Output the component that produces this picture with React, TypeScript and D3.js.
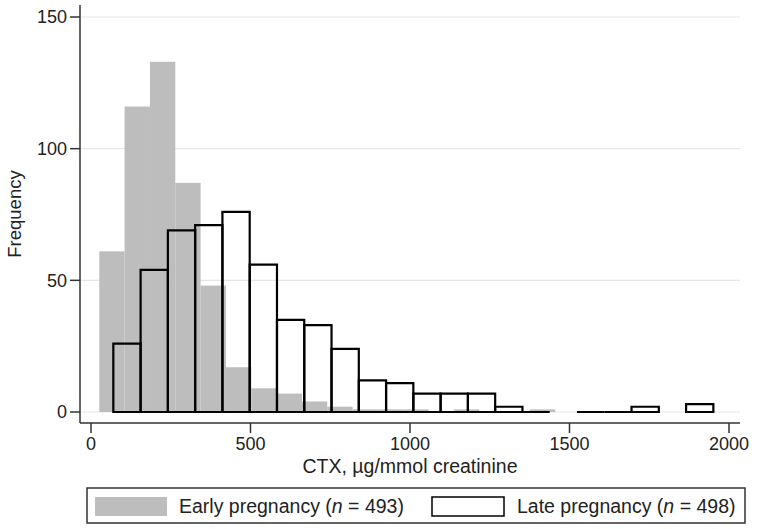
import React from 'react';
import * as d3 from 'd3';

// Histogram counts
const earlyCounts: (number | null)[] = [61, 116, 133, 87, 48, 17, 9, 7, 4, 2, 1, 1, 1, 0, 1, 0, 0, 1];
const lateCounts: (number | null)[] = [26, 54, 69, 71, 76, 56, 35, 33, 24, 12, 11, 7, 7, 7, 2, 0, null, 0, 0, 2, null, 3];
// bin settings (µg/mmol creatinine)
const earlyStart = 26;
const earlyWidth = 79.4;
const lateStart = 70;
const lateWidth = 85.5;

const xTicks = [0, 500, 1000, 1500, 2000];
const yTicks = [0, 50, 100, 150];
const xTitle = 'CTX, µg/mmol creatinine';
const yTitle = 'Frequency';

const font = '"Liberation Sans", Arial, sans-serif';

const App: React.FC = () => {
  const W = 757;
  const H = 529;
  const plot = { left: 80, right: 740, top: 5, bottom: 423 };
  const x = d3.scaleLinear().domain([0, 2000]).range([91, 729]);
  const y = d3.scaleLinear().domain([0, 150]).range([412, 17]);

  const early = earlyCounts.map((c, i) => ({ x0: earlyStart + i * earlyWidth, x1: earlyStart + (i + 1) * earlyWidth, c }));
  const late = lateCounts.map((c, i) => ({ x0: lateStart + i * lateWidth, x1: lateStart + (i + 1) * lateWidth, c }));

  // outlined bars as paths so empty bins still show as a flat line
  const barPath = (d: { x0: number; x1: number; c: number | null }) => {
    const p = d3.path();
    p.rect(x(d.x0), y(d.c as number), x(d.x1) - x(d.x0), y(0) - y(d.c as number));
    return p.toString();
  };

  return <svg width={W} height={H} style={{ position: 'absolute', left: 0, top: 0, background: '#fff' }} fontFamily={font}>
      {/* gridlines */}
      {yTicks.map(t => <line key={'g' + t} x1={plot.left} x2={plot.right} y1={y(t)} y2={y(t)} stroke="#e6e6e6" strokeWidth={1.2} />)}
      {/* early pregnancy bars */}
      {early.filter(d => d.c !== null && d.c > 0).map((d, i) => <rect key={'e' + i} x={x(d.x0)} width={x(d.x1) - x(d.x0)} y={y(d.c as number)} height={y(0) - y(d.c as number)} fill="#bdbdbd" />)}
      {/* late pregnancy bars */}
      {late.filter(d => d.c !== null).map((d, i) => <path key={'l' + i} d={barPath(d)} fill="none" stroke="#000" strokeWidth={2.2} strokeLinejoin="miter" />)}
      {/* y axis */}
      <line x1={plot.left} x2={plot.left} y1={plot.top} y2={plot.bottom} stroke="#333" strokeWidth={1.5} />
      {yTicks.map(t => <g key={'y' + t}>
          <line x1={plot.left - 10} x2={plot.left} y1={y(t)} y2={y(t)} stroke="#333" strokeWidth={1.5} />
          <text x={plot.left - 13} y={y(t)} dy="0.36em" textAnchor="end" fontSize={18} fill="#222">{t}</text>
        </g>)}
      <text transform={`translate(21,${(plot.top + plot.bottom) / 2}) rotate(-90)`} textAnchor="middle" fontSize={18.5} fill="#222">{yTitle}</text>
      {/* x axis */}
      <line x1={plot.left} x2={plot.right} y1={plot.bottom} y2={plot.bottom} stroke="#333" strokeWidth={1.5} />
      {xTicks.map(t => <g key={'x' + t}>
          <line x1={x(t)} x2={x(t)} y1={plot.bottom} y2={plot.bottom + 10} stroke="#333" strokeWidth={1.5} />
          <text x={x(t)} y={450} textAnchor="middle" fontSize={18} fill="#222">{t}</text>
        </g>)}
      <text x={(plot.left + plot.right) / 2} y={473} textAnchor="middle" fontSize={19.5} fill="#222">{xTitle}</text>
      {/* legend */}
      <rect x={87} y={488} width={658} height={35} fill="#fff" stroke="#333" strokeWidth={1.5} />
      <rect x={95} y={497} width={72} height={19} fill="#bdbdbd" />
      <text x={179} y={513} fontSize={19.5} fill="#222">Early pregnancy (<tspan fontStyle="italic">n</tspan> = 493)</text>
      <rect x={432} y={497} width={72} height={19} fill="none" stroke="#000" strokeWidth={1.5} />
      <text x={517} y={513} fontSize={19.5} fill="#222">Late pregnancy (<tspan fontStyle="italic">n</tspan> = 498)</text>
    </svg>;
};

export default App;
